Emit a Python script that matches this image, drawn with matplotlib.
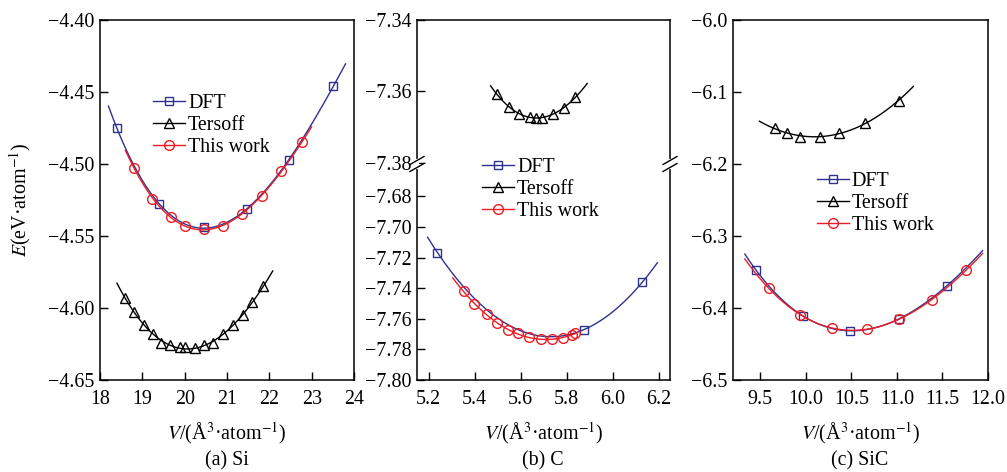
import numpy as np
import matplotlib
matplotlib.use("Agg")
import matplotlib.pyplot as plt
from matplotlib.lines import Line2D
from matplotlib.ticker import FuncFormatter

plt.rcParams["font.family"] = ["Liberation Serif", "DejaVu Serif"]
plt.rcParams["mathtext.fontset"] = "stix"
FS = 14.4
plt.rcParams["font.size"] = FS

BLUE = "#2e3192"
RED = "#ed1c24"

# ---- (a) Si ----
si_dft_v = [18.40, 19.39, 20.46, 21.47, 22.47, 23.51]
si_dft_e = [-4.475, -4.528, -4.544, -4.531, -4.497, -4.446]
si_dft_range = (18.20, 23.80)

si_ter_v = [18.60, 18.81, 19.03, 19.25, 19.45, 19.66, 19.88, 20.00,
            20.24, 20.46, 20.68, 20.90, 21.15, 21.37, 21.60, 21.85]
si_ter_e = [-4.593, -4.603, -4.612, -4.618, -4.624, -4.626, -4.627, -4.627,
            -4.628, -4.626, -4.624, -4.618, -4.612, -4.605, -4.596, -4.585]
si_ter_range = (18.40, 22.08)

si_our_v = [18.81, 19.24, 19.67, 20.00, 20.46, 20.90, 21.36, 21.82, 22.27, 22.77]
si_our_e = [-4.503, -4.524, -4.537, -4.543, -4.545, -4.543, -4.535, -4.522, -4.505, -4.485]
si_our_range = (18.60, 23.00)

# ---- (b) C ----
c_dft_v = [5.239, 5.877, 6.130]
c_dft_e = [-7.7167, -7.767, -7.736]
c_dft_range = (5.196, 6.195)

c_ter_v = [5.497, 5.549, 5.593, 5.641, 5.667, 5.693, 5.742, 5.790, 5.838]
c_ter_e = [-7.3607, -7.3643, -7.3663, -7.3671, -7.3674, -7.3673, -7.3663, -7.3646, -7.3616]
c_ter_range = (5.47, 5.89)

c_our_v = [5.353, 5.397, 5.453, 5.497, 5.545, 5.589, 5.637, 5.689, 5.737, 5.785, 5.822, 5.835]
c_our_e = [-7.742, -7.750, -7.757, -7.763, -7.767, -7.7695, -7.772, -7.7734, -7.7734,
           -7.7728, -7.7705, -7.7695]
c_our_range = (5.305, 5.845)

# ---- (c) SiC ----
sic_dft_v = [9.45, 9.97, 10.49, 11.02, 11.55]
sic_dft_e = [-6.347, -6.411, -6.432, -6.415, -6.369]
sic_dft_range = (9.33, 11.94)

sic_ter_v = [9.66, 9.79, 9.94, 10.15, 10.36, 10.65, 11.02]
sic_ter_e = [-6.150, -6.157, -6.162, -6.163, -6.157, -6.143, -6.112]
sic_ter_range = (9.49, 11.18)

sic_our_v = [9.59, 9.94, 10.29, 10.67, 11.02, 11.39, 11.76]
sic_our_e = [-6.372, -6.410, -6.428, -6.429, -6.415, -6.389, -6.347]
sic_our_range = (9.33, 11.94)


def fit_curve(v, e, rng, deg=3):
    deg = min(deg, len(v) - 1)
    p = np.polyfit(v, e, deg)
    x = np.linspace(rng[0], rng[1], 200)
    return x, np.polyval(p, x)


def draw_series(ax, v, e, rng, color, marker, ms, label, deg=3):
    x, y = fit_curve(v, e, rng, deg)
    ax.plot(x, y, color=color, lw=1.0)
    ax.plot(v, e, linestyle="none", marker=marker, ms=ms, mfc="none",
            mec=color, mew=1.0)
    return Line2D([], [], color=color, lw=1.0, marker=marker, ms=ms,
                  mfc="none", mec=color, mew=1.0, label=label)


def fmt(nd):
    return FuncFormatter(lambda v, _: f"{v:.{nd}f}".replace("-", "\u2212"))


def style(ax):
    for s in ax.spines.values():
        s.set_linewidth(1.1)
    ax.tick_params(direction="in", length=6, width=1.0, top=False, right=False,
                   labelsize=FS)
    ax.tick_params(axis="x", pad=7)
    ax.tick_params(axis="y", pad=4)


XLABEL = r"$V$/(Å$^3$·atom$^{-1}$)"
W, H = 1007, 472
fig = plt.figure(figsize=(W / 100, H / 100), dpi=100)

bot = 1 - 380 / H
top = 1 - 20 / H
brk = 1 - 164 / H

leg_kw = dict(frameon=False, handlelength=1.6, handletextpad=0.15,
              labelspacing=0.15, borderpad=0, borderaxespad=0, fontsize=FS,
              loc="upper left")

# panel (a)
ax_a = fig.add_axes([100 / W, bot, 254 / W, top - bot])
h1 = draw_series(ax_a, si_dft_v, si_dft_e, si_dft_range, BLUE, "s", 6, "DFT")
h2 = draw_series(ax_a, si_ter_v, si_ter_e, si_ter_range, "black", "^", 7, "Tersoff")
h3 = draw_series(ax_a, si_our_v, si_our_e, si_our_range, RED, "o", 7, "This work")
ax_a.set_xlim(18, 24)
ax_a.set_ylim(-4.65, -4.40)
ax_a.set_xticks([18, 19, 20, 21, 22, 23, 24])
ax_a.set_yticks([-4.65, -4.60, -4.55, -4.50, -4.45, -4.40])
ax_a.yaxis.set_major_formatter(fmt(2))
style(ax_a)
ax_a.set_xlabel(XLABEL, fontsize=FS, labelpad=8)
ax_a.set_ylabel(r"$E$(eV·atom$^{-1}$)", fontsize=FS, labelpad=11)
ax_a.legend(handles=[h1, h2, h3], bbox_to_anchor=(0.209, 0.795), **leg_kw)

# panel (b) - broken axis
bl, bw = 417 / W, 253 / W
ax_bt = fig.add_axes([bl, brk, bw, top - brk])
ax_bb = fig.add_axes([bl, bot, bw, brk - bot])
draw_series(ax_bt, c_ter_v, c_ter_e, c_ter_range, "black", "^", 7, "Tersoff")
h1 = draw_series(ax_bb, c_dft_v, c_dft_e, c_dft_range, BLUE, "s", 6, "DFT", deg=2)
h3 = draw_series(ax_bb, c_our_v, c_our_e, c_our_range, RED, "o", 7, "This work")
for ax in (ax_bt, ax_bb):
    ax.set_xlim(5.15, 6.25)
    style(ax)
    ax.yaxis.set_major_formatter(fmt(2))
ax_bt.set_ylim(-7.3803, -7.34)
ax_bt.set_yticks([-7.38, -7.36, -7.34])
ax_bb.set_ylim(-7.80, -7.6588)
ax_bb.set_yticks([-7.80, -7.78, -7.76, -7.74, -7.72, -7.70, -7.68])
ax_bt.spines["bottom"].set_visible(False)
ax_bt.tick_params(bottom=False, labelbottom=False)
ax_bb.spines["top"].set_visible(False)
ax_bb.set_xticks([5.2, 5.4, 5.6, 5.8, 6.0, 6.2])
ax_bb.xaxis.set_major_formatter(fmt(1))
ax_bb.set_xlabel(XLABEL, fontsize=FS, labelpad=8)
ax_bb.legend(handles=[h1, h2, h3], bbox_to_anchor=(0.257, 1.028), **leg_kw)

# break marks
for xs in (bl, bl + bw):
    fig.add_artist(Line2D([xs, xs], [brk - 3 / H, brk + 3 / H], color="white",
                          lw=3, transform=fig.transFigure))
    for dy in (-3.5, 3.5):
        fig.add_artist(Line2D([xs - 7 / W, xs + 7 / W],
                              [brk + (dy - 4) / H, brk + (dy + 4) / H],
                              color="black", lw=1.0, transform=fig.transFigure))

# panel (c)
ax_c = fig.add_axes([733 / W, bot, 255 / W, top - bot])
h1 = draw_series(ax_c, sic_dft_v, sic_dft_e, sic_dft_range, BLUE, "s", 6, "DFT")
draw_series(ax_c, sic_ter_v, sic_ter_e, sic_ter_range, "black", "^", 7, "Tersoff", deg=2)
h3 = draw_series(ax_c, sic_our_v, sic_our_e, sic_our_range, RED, "o", 7, "This work")
ax_c.set_xlim(9.2, 12.0)
ax_c.set_ylim(-6.5, -6.0)
ax_c.set_xticks([9.5, 10.0, 10.5, 11.0, 11.5, 12.0])
ax_c.set_yticks([-6.5, -6.4, -6.3, -6.2, -6.1, -6.0])
ax_c.xaxis.set_major_formatter(fmt(1))
ax_c.yaxis.set_major_formatter(fmt(1))
style(ax_c)
ax_c.set_xlabel(XLABEL, fontsize=FS, labelpad=8)
ax_c.legend(handles=[h1, h2, h3], bbox_to_anchor=(0.329, 0.578), **leg_kw)

# captions
for cx, txt in ((227, "(a) Si"), (543, "(b) C"), (860, "(c) SiC")):
    fig.text(cx / W, 1 - 461 / H, txt, ha="center", va="center", fontsize=FS)

fig.savefig("out.png", dpi=100)
